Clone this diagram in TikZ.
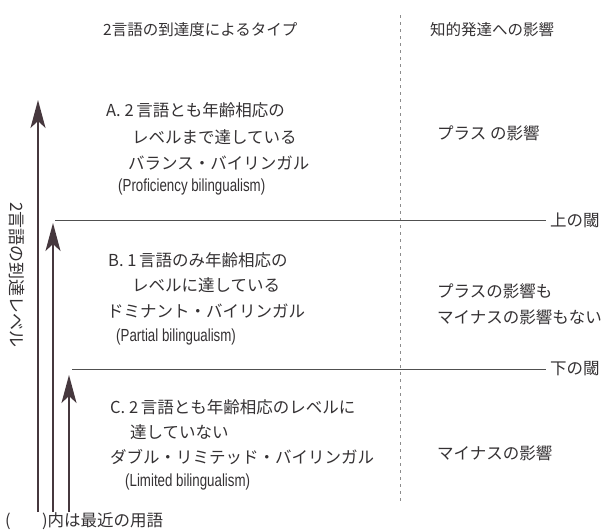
\documentclass[tikz,border=0pt]{standalone}
\usepackage{fontspec}
\setmainfont{Noto Sans CJK JP}
\newfontfamily\lat[FakeStretch=0.76]{Liberation Sans}
\usetikzlibrary{arrows.meta}
\definecolor{ink}{RGB}{52,49,51}
\definecolor{arrowc}{RGB}{70,56,62}
\definecolor{rulec}{RGB}{80,80,80}
\definecolor{dashc}{RGB}{140,140,140}
\begin{document}
\begin{tikzpicture}[x=1pt,y=-1pt,
  txt/.style={anchor=west,inner sep=0pt,text=ink,font=\fontsize{16.5}{19}\selectfont},
  head/.style={txt,font=\fontsize{15.5}{18}\selectfont},
  eng/.style={txt,font=\lat\fontsize{17.5}{20}\selectfont},
  upar/.style={draw=arrowc,line width=1.6pt,-{Stealth[length=28pt,width=15pt,inset=7pt]}},
  rule/.style={draw=rulec,line width=0.9pt},
  sep/.style={draw=dashc,line width=0.8pt,dash pattern=on 3pt off 4pt}]
\useasboundingbox (0,0) rectangle (603,531);
% headers
\node[head] (h1) at (103,30) {2言語の到達度によるタイプ};
\node[head] (h2) at (430,30) {知的発達への影響};
% separator
\coordinate (st) at (400,15);
\coordinate (sb) at (400,503);
\draw[sep] (st) -- (sb);
% block A
\node[txt] (a1) at (106,110) {A.\ 2\,言語とも年齢相応の};
\node[txt] (a2) at (132,137) {レベルまで達している};
\node[txt] (a3) at (128,163) {バランス・バイリンガル};
\node[eng] (a4) at (118,187) {(Proficiency bilingualism)};
\node[txt] (ra) at (437,133) {プラス の影響};
% upper threshold
\node[txt] (up) at (550,220) {上の閾};
\coordinate (ul) at (55,220);
\draw[rule] (ul) -- ([xshift=-4pt]up.west);
% block B
\node[txt] (b1) at (108,260) {B.\ 1\,言語のみ年齢相応の};
\node[txt] (b2) at (132,285) {レベルに達している};
\node[txt] (b3) at (107,311) {ドミナント・バイリンガル};
\node[eng] (b4) at (116,337) {(Partial bilingualism)};
\node[txt] (rb1) at (437,291) {プラスの影響も};
\node[txt] (rb2) at (437,317) {マイナスの影響もない};
% lower threshold
\node[txt] (lo) at (550,369) {下の閾};
\coordinate (ll) at (72,369);
\draw[rule] (ll) -- ([xshift=-4pt]lo.west);
% block C
\node[txt] (c1) at (110,407) {C.\ 2\,言語とも年齢相応のレベルに};
\node[txt] (c2) at (130,432) {達していない};
\node[txt] (c3) at (110,457) {ダブル・リミテッド・バイリンガル};
\node[eng] (c4) at (125,482) {(Limited bilingualism)};
\node[txt] (rc) at (437,453) {マイナスの影響};
% footnote
\node[txt] (fn) at (5,521) {(\hspace{1.9em})内は最近の用語};
% vertical label
\node[txt,anchor=center,rotate=-90,font=\fontsize{17}{20}\selectfont] (vl) at (17,275) {2言語の到達レベル};
% arrows
\coordinate (p1b) at (38,512);
\coordinate (p1t) at (38,100);
\coordinate (p2b) at (53,512);
\coordinate (p2t) at (53,223);
\coordinate (p3b) at (69,512);
\coordinate (p3t) at (69,375);
\draw[upar] (p1b) -- (p1t);
\draw[upar] (p2b) -- (p2t);
\draw[upar] (p3b) -- (p3t);
\end{tikzpicture}
\end{document}
